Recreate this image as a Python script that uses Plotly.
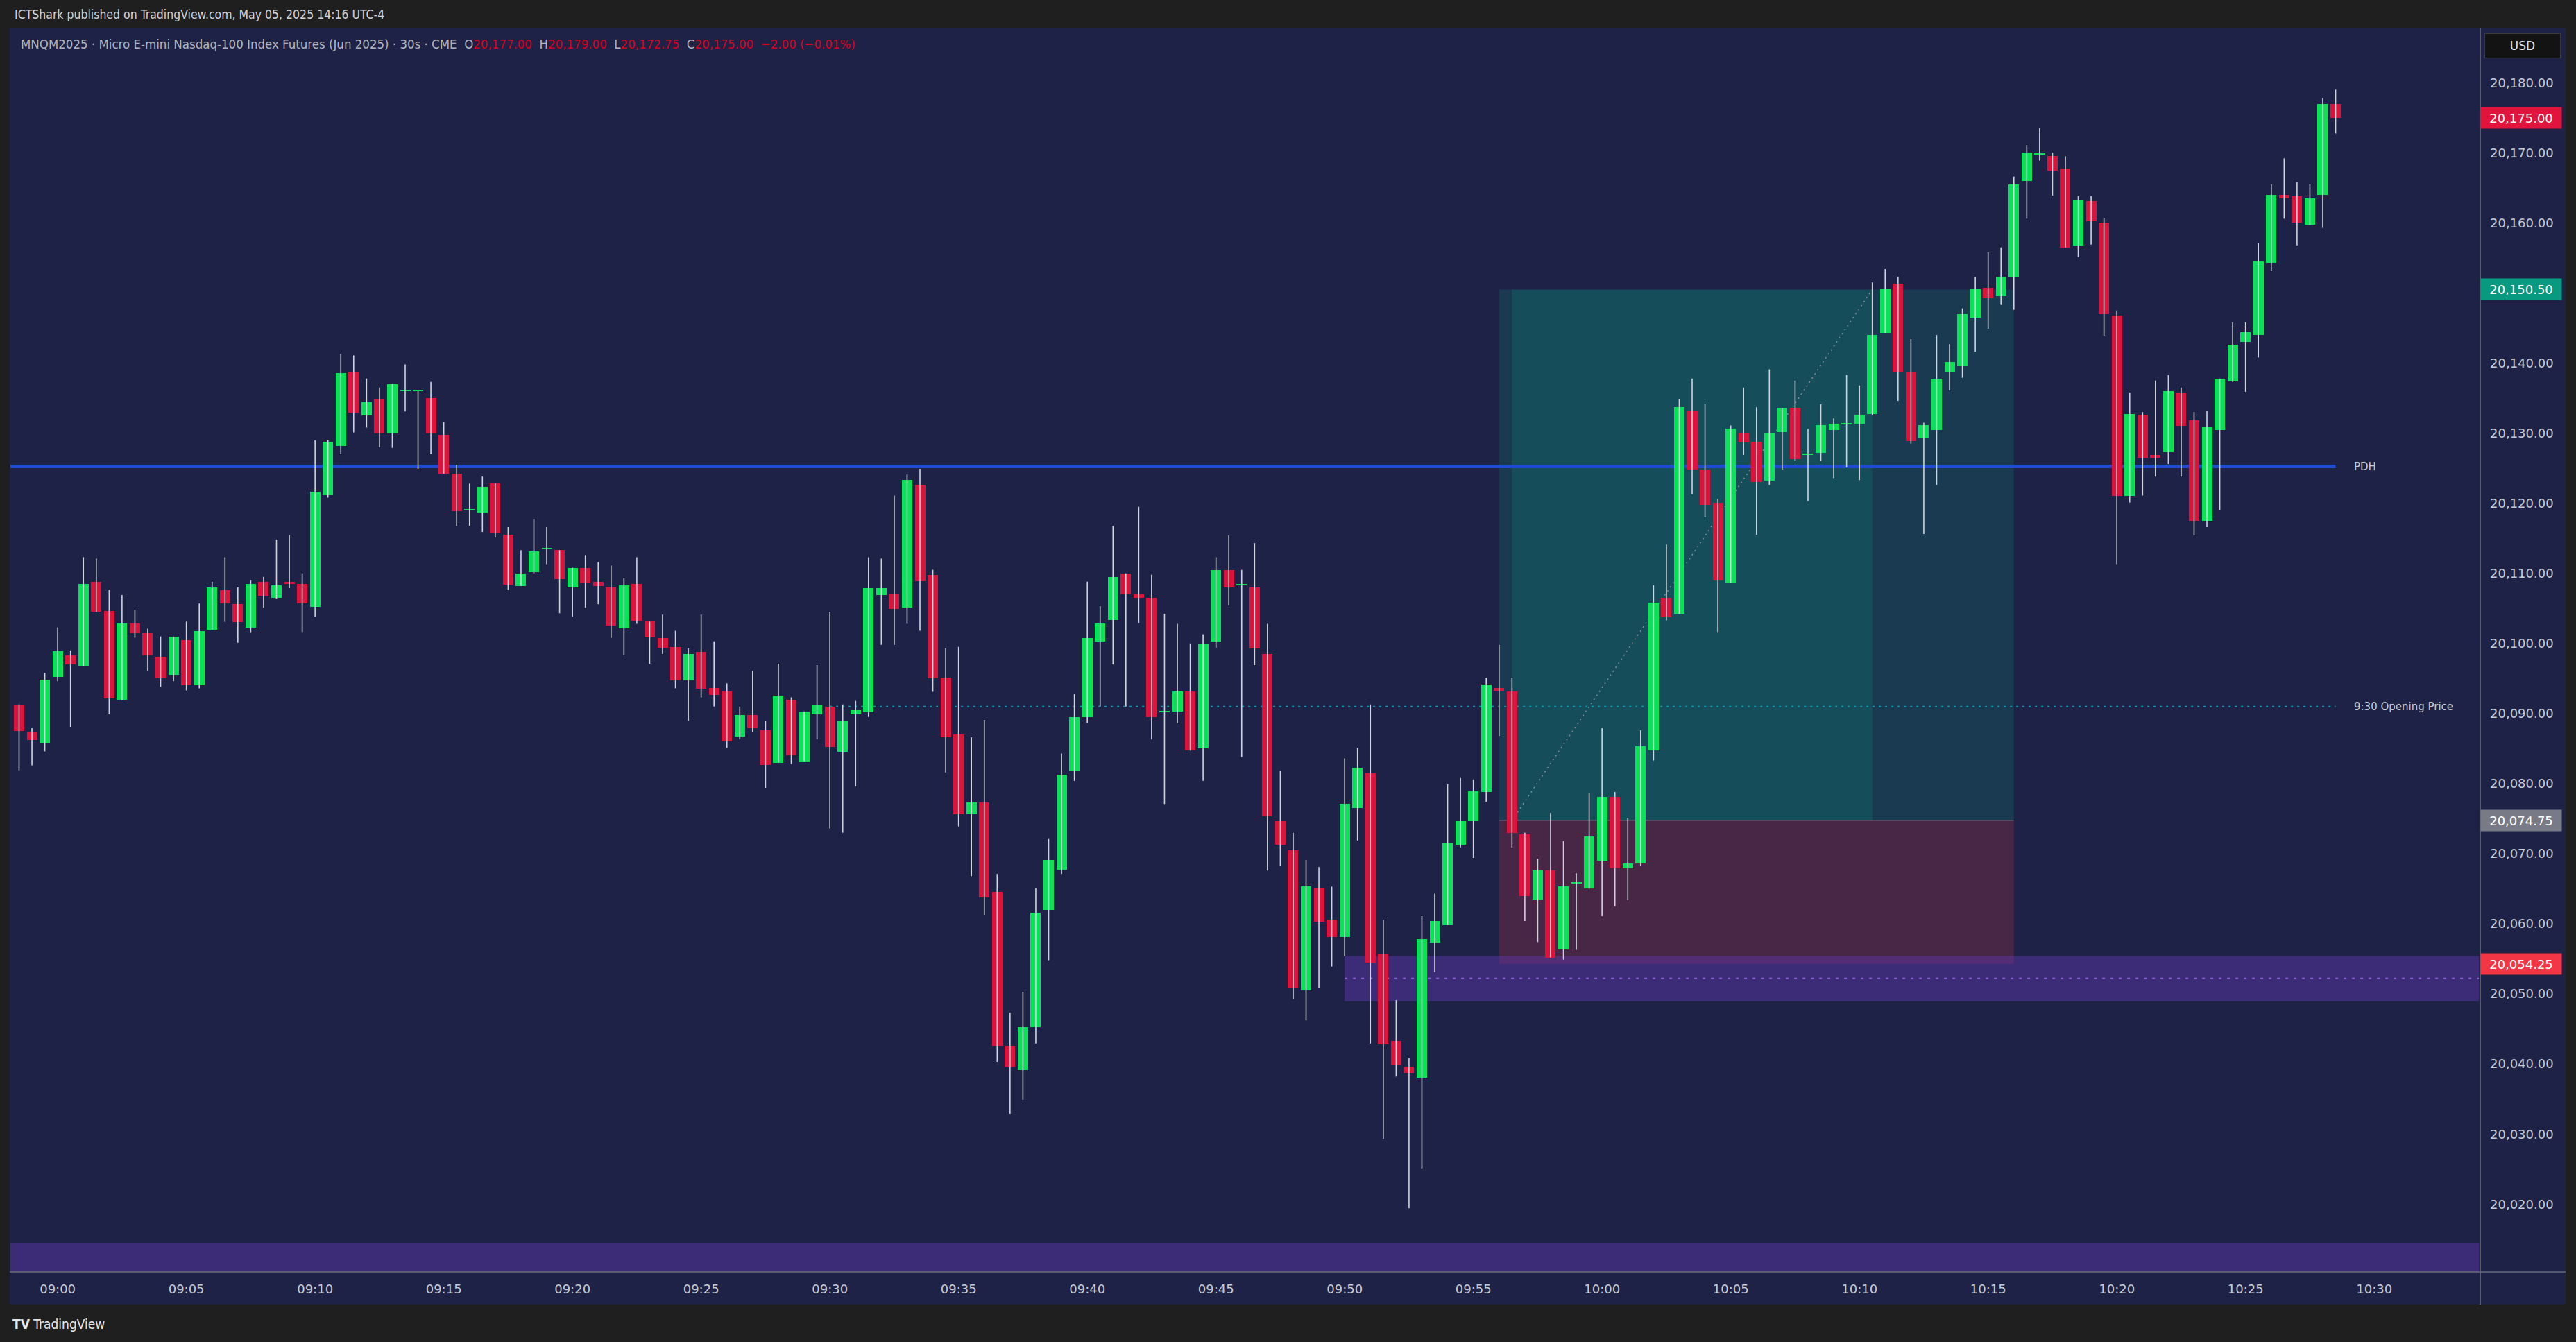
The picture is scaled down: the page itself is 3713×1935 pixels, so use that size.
import pandas as pd
import plotly.graph_objects as go

# ---------------- data ----------------
bar_times = pd.date_range("2025-05-05 08:58:30", periods=181, freq="30s")

opens = [20091.3, 20087.3, 20085.7, 20095.2, 20098.3, 20096.8, 20108.8, 20104.6, 20092.0, 20102.8,
         20101.6, 20098.1, 20095.5, 20100.5, 20094.0, 20102.0, 20107.6, 20105.6, 20102.3, 20108.8,
         20106.5, 20108.8, 20108.5, 20105.2, 20121.2, 20128.2, 20138.8, 20132.5, 20134.8, 20130.0,
         20136.0, 20136.0, 20135.0, 20129.8, 20124.2, 20119.0, 20118.7, 20122.8, 20115.5, 20108.2,
         20110.2, 20113.5, 20113.3, 20108.0, 20110.8, 20108.8, 20108.0, 20102.2, 20108.5, 20103.1,
         20100.8, 20099.5, 20094.7, 20098.8, 20093.6, 20093.1, 20086.7, 20089.8, 20087.6, 20083.0,
         20092.0, 20083.2, 20089.9, 20091.0, 20084.5, 20089.9, 20090.2, 20106.9, 20107.1, 20105.1,
         20122.6, 20109.8, 20095.1, 20087.0, 20075.6, 20077.3, 20064.6, 20042.6, 20039.1, 20045.3,
         20062.0, 20067.7, 20081.8, 20089.5, 20100.3, 20103.3, 20110.0, 20107.0, 20106.5, 20090.2,
         20090.3, 20093.1, 20085.0, 20100.3, 20110.5, 20108.3, 20108.0, 20098.5, 20074.6, 20070.5,
         20050.5, 20065.1, 20060.6, 20058.1, 20076.5, 20081.5, 20055.6, 20043.3, 20039.6, 20038.0,
         20057.3, 20059.8, 20071.3, 20074.6, 20078.8, 20093.6, 20093.1, 20072.8, 20063.5, 20067.6,
         20056.3, 20065.8, 20065.0, 20069.0, 20078.1, 20067.9, 20068.6, 20084.7, 20106.5, 20104.2,
         20133.2, 20124.8, 20120.1, 20108.7, 20130.1, 20128.8, 20123.2, 20130.2, 20133.6, 20126.9,
         20127.2, 20130.5, 20131.3, 20131.3, 20132.7, 20144.3, 20151.3, 20138.8, 20129.3, 20130.5,
         20138.8, 20139.6, 20146.5, 20150.7, 20149.5, 20152.2, 20166.0, 20169.8, 20169.5, 20167.8,
         20156.8, 20163.1, 20160.0, 20146.8, 20121.1, 20132.6, 20126.9, 20127.3, 20135.8, 20131.8,
         20117.5, 20130.5, 20137.4, 20143.0, 20144.0, 20154.3, 20164.0, 20163.8, 20159.7, 20164.0,
         20177.0]

highs = [20091.3, 20087.9, 20095.8, 20102.3, 20099.0, 20112.3, 20112.1, 20107.6, 20106.9, 20104.8,
         20102.1, 20101.0, 20101.0, 20103.1, 20105.7, 20108.8, 20112.3, 20108.0, 20109.0, 20109.5,
         20114.8, 20115.4, 20110.0, 20129.0, 20129.0, 20141.3, 20141.1, 20137.8, 20136.5, 20137.0,
         20139.8, 20136.0, 20137.3, 20131.6, 20125.5, 20122.8, 20123.8, 20122.8, 20116.6, 20113.3,
         20117.8, 20116.6, 20113.3, 20110.8, 20112.6, 20111.6, 20111.1, 20109.3, 20112.3, 20103.1,
         20104.1, 20101.8, 20099.3, 20104.1, 20100.3, 20094.3, 20091.0, 20096.1, 20088.9, 20097.1,
         20092.3, 20090.3, 20096.9, 20104.5, 20091.3, 20091.8, 20112.3, 20112.1, 20121.1, 20124.1,
         20124.9, 20110.5, 20099.3, 20099.5, 20086.6, 20089.1, 20067.1, 20047.3, 20050.3, 20065.1,
         20072.1, 20084.3, 20092.8, 20108.8, 20105.3, 20116.8, 20110.0, 20119.5, 20109.8, 20104.2,
         20102.8, 20100.0, 20101.3, 20112.3, 20115.4, 20110.5, 20114.3, 20102.8, 20081.8, 20073.0,
         20069.1, 20068.1, 20065.3, 20083.6, 20085.1, 20091.3, 20060.6, 20049.1, 20040.8, 20061.1,
         20064.3, 20079.9, 20080.8, 20080.6, 20095.1, 20099.8, 20095.1, 20073.0, 20069.3, 20075.8,
         20071.8, 20067.2, 20078.6, 20087.9, 20078.8, 20075.1, 20087.6, 20108.3, 20114.1, 20134.8,
         20137.8, 20134.1, 20120.6, 20131.1, 20136.5, 20133.7, 20139.1, 20133.6, 20137.5, 20130.6,
         20134.1, 20132.1, 20138.3, 20136.8, 20151.5, 20153.4, 20152.3, 20143.4, 20131.5, 20144.0,
         20142.7, 20147.8, 20152.3, 20155.8, 20156.5, 20166.6, 20171.1, 20173.5, 20170.0, 20169.5,
         20163.8, 20163.8, 20160.7, 20147.5, 20135.8, 20133.0, 20137.5, 20138.3, 20136.5, 20133.0,
         20133.2, 20137.8, 20145.8, 20145.8, 20157.1, 20165.5, 20169.2, 20165.8, 20165.5, 20177.8,
         20179.0]

lows = [20081.9, 20082.6, 20084.6, 20094.6, 20088.1, 20096.8, 20104.5, 20089.9, 20091.9, 20100.8,
        20096.1, 20093.8, 20094.6, 20093.3, 20093.6, 20102.0, 20103.1, 20100.1, 20101.6, 20105.1,
        20106.4, 20107.9, 20101.6, 20103.8, 20120.8, 20127.0, 20130.1, 20130.8, 20128.0, 20127.9,
        20133.1, 20124.9, 20127.0, 20124.2, 20116.8, 20116.8, 20115.9, 20115.1, 20107.6, 20108.2,
        20110.0, 20111.3, 20104.3, 20103.8, 20105.1, 20105.6, 20100.8, 20098.3, 20102.8, 20097.1,
        20098.5, 20093.6, 20089.0, 20092.3, 20091.0, 20085.1, 20086.3, 20087.3, 20079.4, 20083.0,
        20082.8, 20083.2, 20086.3, 20073.6, 20073.0, 20079.6, 20089.5, 20099.8, 20099.8, 20102.8,
        20101.8, 20093.1, 20081.6, 20073.9, 20066.8, 20061.2, 20040.3, 20032.9, 20034.9, 20042.9,
        20054.8, 20067.1, 20080.4, 20088.6, 20091.0, 20097.0, 20091.0, 20102.9, 20086.3, 20077.1,
        20088.6, 20084.7, 20080.4, 20099.4, 20105.4, 20083.8, 20096.9, 20067.6, 20068.3, 20049.3,
        20046.2, 20050.9, 20053.9, 20055.4, 20071.9, 20042.9, 20029.3, 20038.2, 20019.4, 20025.1,
        20053.1, 20059.8, 20070.9, 20069.4, 20077.4, 20086.8, 20070.9, 20060.4, 20057.4, 20055.2,
        20054.9, 20056.3, 20065.0, 20061.1, 20062.5, 20063.4, 20068.3, 20083.3, 20103.3, 20104.2,
        20121.3, 20118.0, 20101.6, 20108.7, 20126.9, 20115.5, 20122.6, 20124.8, 20126.0, 20120.3,
        20126.0, 20123.6, 20125.1, 20123.3, 20132.6, 20144.3, 20134.6, 20128.5, 20115.6, 20122.6,
        20136.1, 20137.9, 20141.6, 20144.9, 20148.3, 20147.6, 20160.6, 20168.9, 20163.9, 20156.5,
        20155.1, 20156.9, 20143.9, 20111.3, 20120.1, 20121.1, 20123.8, 20125.6, 20123.8, 20115.4,
        20116.6, 20119.0, 20137.3, 20135.9, 20140.8, 20153.1, 20160.6, 20156.8, 20159.7, 20159.3,
        20172.75]

closes = [20087.5, 20086.2, 20094.8, 20098.9, 20097.0, 20108.5, 20104.5, 20092.2, 20102.8, 20101.5,
          20098.3, 20095.0, 20101.0, 20094.0, 20101.8, 20108.0, 20105.7, 20103.0, 20108.5, 20106.8,
          20108.3, 20108.5, 20105.7, 20121.6, 20128.8, 20138.6, 20132.9, 20134.4, 20130.0, 20137.0,
          20136.0, 20136.0, 20130.0, 20124.2, 20118.9, 20119.0, 20122.3, 20115.8, 20108.4, 20110.0,
          20113.1, 20113.5, 20109.2, 20110.8, 20108.7, 20108.2, 20102.5, 20108.3, 20103.2, 20100.9,
          20099.4, 20094.7, 20098.5, 20093.5, 20092.7, 20086.0, 20089.8, 20087.9, 20082.7, 20092.6,
          20084.0, 20090.3, 20091.3, 20085.2, 20088.9, 20090.5, 20107.9, 20107.9, 20104.9, 20123.3,
          20108.9, 20095.0, 20086.6, 20075.6, 20077.3, 20063.8, 20042.6, 20039.6, 20045.3, 20061.6,
          20069.1, 20081.3, 20089.5, 20100.8, 20102.8, 20109.5, 20107.0, 20106.5, 20089.5, 20090.2,
          20093.1, 20084.7, 20100.0, 20110.5, 20108.0, 20108.3, 20099.3, 20075.3, 20071.3, 20050.9,
          20065.3, 20060.3, 20058.1, 20077.1, 20082.3, 20054.5, 20042.8, 20039.8, 20038.7, 20057.8,
          20060.4, 20071.5, 20074.6, 20078.9, 20094.1, 20093.2, 20073.0, 20064.0, 20067.6, 20055.2,
          20065.3, 20065.8, 20072.5, 20078.1, 20067.9, 20068.6, 20085.3, 20105.8, 20103.7, 20133.7,
          20124.8, 20119.8, 20109.0, 20130.6, 20128.7, 20123.0, 20130.1, 20133.6, 20126.3, 20126.9,
          20131.1, 20131.3, 20131.3, 20132.6, 20144.0, 20150.6, 20138.8, 20128.9, 20131.1, 20137.8,
          20140.1, 20147.0, 20150.6, 20149.3, 20152.3, 20165.5, 20170.0, 20169.8, 20167.5, 20156.5,
          20163.3, 20160.2, 20147.0, 20121.1, 20132.7, 20126.5, 20126.5, 20136.0, 20131.0, 20117.5,
          20130.8, 20137.8, 20142.6, 20144.4, 20154.5, 20164.0, 20163.5, 20160.0, 20163.5, 20177.0,
          20175.0]

price_ticks = [20180, 20170, 20160, 20140, 20130, 20120, 20110, 20100, 20090,
               20080, 20070, 20060, 20050, 20040, 20030, 20020]

PDH = 20125.25
OPEN_930 = 20091.0
ENTRY = 20074.75
TARGET = 20150.50
STOP = 20054.25
ZONE_TOP = 20055.4
ZONE_BOT = 20048.95
ZONE_MID = 20052.2

IDX_930 = 63
IDX_POS_START, IDX_TRADE_START, IDX_TRADE_END, IDX_POS_END = 115, 116, 144, 155
IDX_ZONE_START = 103

# ---------------- geometry / styles ----------------
W, H = 3713, 1935
ML, MR, MT, MB = 15, 140, 40, 101
PW = W - ML - MR
PH = H - MT - MB


def px(x):
    return (x - ML) / PW


def py(y):
    return (H - MB - y) / PH


NAVY = "#1e2247"
FRAME = "#1f1f1f"
UP = "#08e257"
DOWN = "#dc143c"
WICK = "#d1d4dc"
TXT = "#c8cbd3"
FONT = "DejaVu Sans"
NARROW = "Liberation Sans Narrow, DejaVu Sans Condensed, sans-serif"

times = [t.strftime("%Y-%m-%d %H:%M:%S") for t in bar_times]
x_range = ["2025-05-05 08:58:09.8", "2025-05-05 10:34:03.9"]
y_range = [20010.33, 20187.84]
BODY_MS = 24260

# ---------------- traces ----------------
wx, wy = [], []
for t, h, l in zip(times, highs, lows):
    wx += [t, t, None]
    wy += [l, h, None]

up_x, up_b, up_h, dn_x, dn_b, dn_h = [], [], [], [], [], []
for t, o, c in zip(times, opens, closes):
    base = min(o, c)
    hgt = max(abs(c - o), 0.18)
    if c >= o:
        up_x.append(t); up_b.append(base); up_h.append(hgt)
    else:
        dn_x.append(t); dn_b.append(base); dn_h.append(hgt)

fig = go.Figure()
fig.add_trace(go.Scatter(x=wx, y=wy, mode="lines", line=dict(color=WICK, width=1.6),
                         hoverinfo="skip", connectgaps=False))
fig.add_trace(go.Bar(x=up_x, y=up_h, base=up_b, width=BODY_MS, marker=dict(color=UP, line=dict(width=0))))
fig.add_trace(go.Bar(x=dn_x, y=dn_h, base=dn_b, width=BODY_MS, marker=dict(color=DOWN, line=dict(width=0))))

# ---------------- shapes ----------------
shapes = []
shapes.append(dict(type="rect", xref="paper", yref="paper", x0=px(14), x1=px(3698), y0=py(1881), y1=py(40),
                   fillcolor=NAVY, line=dict(width=0), layer="below"))
shapes.append(dict(type="rect", xref="x", yref="y", x0=times[IDX_POS_START], x1=times[IDX_POS_END],
                   y0=ENTRY, y1=TARGET, fillcolor="rgba(8,153,129,0.2)", line=dict(width=0), layer="below"))
shapes.append(dict(type="rect", xref="x", yref="y", x0=times[IDX_TRADE_START], x1=times[IDX_TRADE_END],
                   y0=ENTRY, y1=TARGET, fillcolor="rgba(8,153,129,0.2)", line=dict(width=0), layer="below"))
shapes.append(dict(type="rect", xref="x", yref="y", x0=times[IDX_POS_START], x1=times[IDX_POS_END],
                   y0=STOP, y1=ENTRY, fillcolor="rgba(242,54,69,0.2)", line=dict(width=0), layer="below"))
shapes.append(dict(type="line", xref="x", yref="y", x0=times[IDX_POS_START], x1=times[IDX_POS_END],
                   y0=ENTRY, y1=ENTRY, line=dict(color="rgba(140,143,154,0.7)", width=1), layer="below"))
shapes.append(dict(type="line", xref="x", yref="y", x0=times[IDX_TRADE_START], x1=times[IDX_TRADE_END],
                   y0=ENTRY, y1=TARGET, line=dict(color="#8a8d98", width=1.5, dash="2px,5px"), layer="below"))
shapes.append(dict(type="rect", xref="x", yref="y", x0=times[IDX_ZONE_START], x1=x_range[1],
                   y0=ZONE_BOT, y1=ZONE_TOP, fillcolor="rgba(103,58,183,0.42)", line=dict(width=0), layer="below"))
shapes.append(dict(type="line", xref="x", yref="y", x0=times[IDX_ZONE_START], x1=x_range[1],
                   y0=ZONE_MID, y1=ZONE_MID, line=dict(color="#8e5fd8", width=2, dash="4px,8px"), layer="below"))
shapes.append(dict(type="rect", xref="paper", yref="paper", x0=0, x1=1, y0=0, y1=py(1792),
                   fillcolor="rgba(103,58,183,0.42)", line=dict(width=0), layer="below"))
shapes.append(dict(type="line", xref="x", yref="y", x0=x_range[0], x1=times[-1], y0=PDH, y1=PDH,
                   line=dict(color="#1f4bd1", width=5), layer="below"))
shapes.append(dict(type="line", xref="x", yref="y", x0=times[IDX_930], x1=times[-1], y0=OPEN_930, y1=OPEN_930,
                   line=dict(color="#0a9bb0", width=2, dash="3px,6px"), layer="below"))
shapes.append(dict(type="line", xref="paper", yref="paper", x0=px(3575), x1=px(3575), y0=py(1881), y1=py(40),
                   line=dict(color="#6a6d78", width=1.5)))
shapes.append(dict(type="line", xref="paper", yref="paper", x0=px(14), x1=px(3698), y0=0, y1=0,
                   line=dict(color="#6a6d78", width=1.5)))

# ---------------- annotations ----------------
ann = []
ann.append(dict(xref="paper", yref="paper", x=px(19), y=py(21), xanchor="left", yanchor="middle",
                text="ICTShark published on TradingView.com, May 05, 2025 14:16 UTC-4",
                showarrow=False, font=dict(family=NARROW, size=17.5, color="#d1d4dc")))

chg = closes[-1] - closes[-2]
pct = chg / closes[-2] * 100
RED_TXT = "#d9001b"
NB = "\u00a0"


def fmt(v):
    return f"{v:,.2f}"


legend_txt = ("MNQM2025 · Micro E-mini Nasdaq-100 Index Futures (Jun 2025) · 30s · CME" + NB * 2 +
              f"O<span style='color:{RED_TXT}'>{fmt(opens[-1])}</span>" + NB * 2 +
              f"H<span style='color:{RED_TXT}'>{fmt(highs[-1])}</span>" + NB * 2 +
              f"L<span style='color:{RED_TXT}'>{fmt(lows[-1])}</span>" + NB * 2 +
              f"C<span style='color:{RED_TXT}'>{fmt(closes[-1])}</span>" + NB * 2 +
              f"<span style='color:{RED_TXT}'>{chg:+.2f} ({pct:+.2f}%)</span>".replace("-", "−"))
ann.append(dict(xref="paper", yref="paper", x=px(28), y=py(64), xanchor="left", yanchor="middle",
                text=legend_txt, showarrow=False, font=dict(family=NARROW, size=18.5, color="#b2b5be")))

ann.append(dict(xref="paper", yref="y", x=px(3391), y=PDH, xanchor="left", yanchor="middle", text="PDH",
                showarrow=False, font=dict(family=FONT, size=15, color=TXT)))
ann.append(dict(xref="paper", yref="y", x=px(3391), y=OPEN_930, xanchor="left", yanchor="middle",
                text="9:30 Opening Price", showarrow=False, font=dict(family=FONT, size=15, color=TXT)))

for val, col in [(closes[-1], "#e0143c"), (TARGET, "#089981"), (ENTRY, "#787b86"), (STOP, "#f23645")]:
    ann.append(dict(xref="paper", yref="y", x=px(3575), y=val, xanchor="left", yanchor="middle",
                    text=fmt(val), showarrow=False, bgcolor=col, width=110, height=24, borderpad=3,
                    align="center", font=dict(family=FONT, size=18, color="#ffffff")))

ann.append(dict(xref="paper", yref="paper", x=px(3636), y=py(65.5), xanchor="center", yanchor="middle",
                text="USD", showarrow=False, bgcolor="#131313", bordercolor="#3a3a3a", borderwidth=1,
                width=104, height=30, borderpad=2, font=dict(family=FONT, size=17, color="#e0e3eb")))

ann.append(dict(xref="paper", yref="paper", x=px(16), y=py(1909), xanchor="left", yanchor="middle",
                text="<b>TV</b> TradingView", showarrow=False,
                font=dict(family=NARROW, size=19, color="#e8e8e8")))

# ---------------- layout ----------------
fig.update_layout(
    width=W, height=H, autosize=False,
    margin=dict(l=ML, r=MR, t=MT, b=MB, pad=0),
    paper_bgcolor=FRAME, plot_bgcolor=NAVY,
    showlegend=False, barmode="overlay", bargap=0,
    shapes=shapes, annotations=ann,
    xaxis=dict(type="date", range=x_range, tickformat="%H:%M", tick0="2025-05-05 09:00:00", dtick=300000,
               showgrid=False, zeroline=False, showline=False, ticks="", ticklabelstandoff=12,
               tickfont=dict(family=FONT, size=18, color=TXT), fixedrange=True),
    yaxis=dict(side="right", range=y_range, tickvals=price_ticks, ticktext=[fmt(v) for v in price_ticks],
               showgrid=False, zeroline=False, showline=False, ticks="", ticklabelstandoff=15,
               tickfont=dict(family=FONT, size=18, color=TXT), fixedrange=True),
)

fig.write_html("out.html", config={"displayModeBar": False},
               post_script="document.body.style.margin='0px';document.body.style.overflow='hidden';")
